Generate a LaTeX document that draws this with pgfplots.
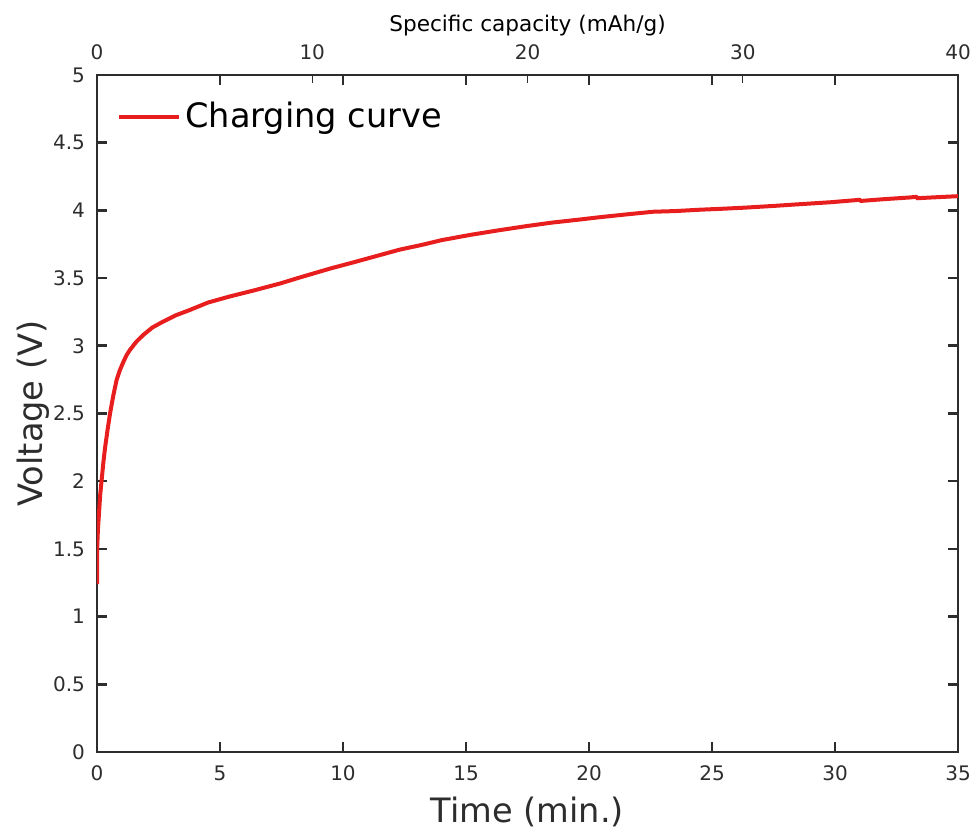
\documentclass[border=0pt]{standalone}
\usepackage{pgfplots}
\pgfplotsset{compat=1.18}
\usepackage{fontspec}
\setmainfont{DejaVu Sans}
\definecolor{axgray}{RGB}{45,45,45}
\definecolor{curvered}{RGB}{232,30,30}
\begin{document}
\begin{tikzpicture}
\begin{axis}[
  name=main,
  scale only axis,
  width=430.5pt, height=338.5pt,
  xmin=0, xmax=35, ymin=0, ymax=5,
  xtick={0,5,...,35},
  ytick={0,0.5,...,5},
  axis line style={axgray, line width=1.3pt},
  major tick style={axgray, line width=1.3pt},
  major tick length=5pt,
  tick align=inside,
  xticklabel pos=bottom,
  yticklabel pos=left,
  ticklabel style={font=\fontsize{10}{12}\selectfont, text=axgray},
  xticklabel style={yshift=-3.5pt},
  yticklabel style={xshift=-2.5pt},
  /pgf/number format/assume math mode=true,
  xlabel={Time (min.)},
  ylabel={Voltage (V)},
  xlabel style={font=\fontsize{16.8}{20}\selectfont, text=axgray,
    at={(axis description cs:0.5,0)}, anchor=base, yshift=-35pt},
  ylabel style={font=\fontsize{16.8}{20}\selectfont, text=axgray,
    at={(axis description cs:0,0.5)}, anchor=base, yshift=27pt},
  legend style={draw=none, fill=none, at={(0,1)}, anchor=north west,
    xshift=7pt, yshift=-9.5pt, font=\fontsize{16.8}{20}\selectfont, text=black,
    legend cell align=left},
  legend image code/.code={\draw[#1] (0pt,0pt) -- (30pt,0pt);},
]
\addplot[curvered, line width=2pt] table {
t V
0 1.24
0.01 1.52
0.04 1.65
0.08 1.76
0.13 1.90
0.19 2.01
0.26 2.14
0.33 2.25
0.43 2.38
0.53 2.50
0.66 2.63
0.80 2.75
0.93 2.82
1.07 2.88
1.20 2.93
1.34 2.97
1.60 3.03
1.88 3.08
2.25 3.135
2.70 3.18
3.20 3.225
3.78 3.265
4.52 3.32
5.41 3.365
6.40 3.41
7.44 3.46
8.25 3.505
9.47 3.57
10.5 3.62
11.5 3.67
12.3 3.71
13.2 3.745
14.0 3.78
15.2 3.82
16.4 3.855
17.5 3.885
18.5 3.91
19.5 3.93
20.45 3.95
21.5 3.97
22.6 3.99
23.5 3.995
24.5 4.005
25.4 4.012
26.3 4.02
27.5 4.033
28.5 4.045
29.8 4.06
31.0 4.078
31.05 4.07
32.0 4.083
33.0 4.095
33.3 4.10
33.35 4.09
34.2 4.098
35 4.105
};
\addlegendentry{Charging curve}
\end{axis}
\begin{axis}[
  scale only axis,
  width=430.5pt, height=338.5pt,
  xmin=0, xmax=40, ymin=0, ymax=5,
  axis x line*=top,
  axis y line=none,
  xtick={0,10,...,40},
  axis line style={axgray, line width=1.3pt},
  major tick style={axgray, line width=0.5pt},
  major tick length=4pt,
  tick align=inside,
  ticklabel style={font=\fontsize{10}{12}\selectfont, text=axgray},
  xticklabel style={yshift=4pt},
  /pgf/number format/assume math mode=true,
  xlabel={Specific capacity (mAh/g)},
  xlabel style={font=\fontsize{10.8}{13}\selectfont, text=black,
    at={(axis description cs:0.5,1)}, anchor=base, yshift=21.5pt},
]
\end{axis}
\pgfresetboundingbox
\path ([shift={(-48.5pt,-38pt)}]main.south west) rectangle ([shift={(7pt,37.5pt)}]main.north east);
\end{tikzpicture}
\end{document}
